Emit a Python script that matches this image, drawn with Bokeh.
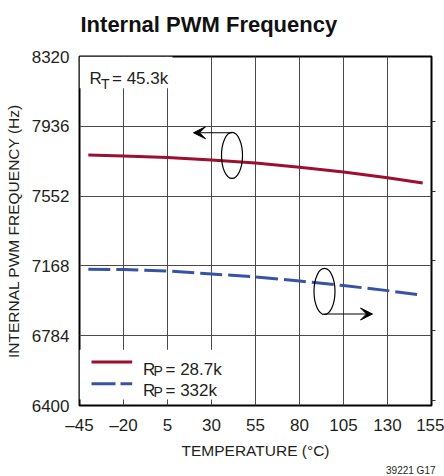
from bokeh.plotting import figure
from bokeh.models import Range1d, FixedTicker, LinearAxis, Label, BoxAnnotation, Arrow, VeeHead, Title
from bokeh.embed import file_html
from bokeh.resources import INLINE

# ---- data ----
temps = [-40, -20, 5, 30, 55, 80, 105, 130, 150]
freq_rp_28k7 = [7778, 7772, 7764, 7751, 7734, 7711, 7684, 7653, 7624]
freq_rp_332k = [7150, 7148, 7140, 7124, 7107, 7085, 7060, 7032, 7006]
x_ticks = [-45, -20, 5, 30, 55, 80, 105, 130, 155]
x_tick_labels = ["\u201345", "\u201320", "5", "30", "55", "80", "105", "130", "155"]
y_ticks = [6400, 6784, 7168, 7552, 7936, 8320]
right_ticks = [6427, 6811, 7195, 7579, 7963]

FONT = "Liberation Sans"
TXT = "#231f20"
RED = "#9c0f2f"
BLUE = "#3953a4"

X0, X1 = -45, 155
Y0, Y1 = 6400, 8320
# frame position on the canvas (used only to place annotations)
FL, FT, FW, FH = 79, 56, 352, 351


def px_x(px):
    return X0 + (px - FL) * (X1 - X0) / FW


def px_y(py):
    return Y1 - (py - FT) * (Y1 - Y0) / FH


p = figure(width=444, height=476, x_range=Range1d(X0, X1), y_range=Range1d(Y0, Y1),
           output_backend="svg", toolbar_location=None,
           min_border_left=79, min_border_right=13, min_border_top=56, min_border_bottom=69)

p.title.text = "Internal PWM Frequency"
p.title.text_font = FONT
p.title.text_font_size = "22px"
p.title.text_font_style = "bold"
p.title.text_color = "#111111"
p.title.align = "left"
p.title.vertical_align = "bottom"
p.title.standoff = 0
p.title.offset = 1

# empty spacer between the title and the frame
p.add_layout(Title(text=" ", text_font_size="1px", standoff=17), "above")

p.add_layout(Title(text="39221 G17", align="right", text_font=FONT, text_font_size="10px",
                   text_font_style="normal", text_color=TXT, standoff=2, offset=-4), "below")

p.outline_line_color = "black"
p.outline_line_width = 2
p.background_fill_color = "white"
p.border_fill_color = "white"

for ax in (p.xaxis[0], p.yaxis[0]):
    ax.axis_line_color = None
    ax.major_tick_in = 0
    ax.major_tick_out = 0
    ax.minor_tick_line_color = None
    ax.major_label_text_font = FONT
    ax.major_label_text_font_size = "17px"
    ax.major_label_text_color = TXT
    ax.axis_label_text_font = FONT
    ax.axis_label_text_font_size = "15.5px"
    ax.axis_label_text_font_style = "normal"
    ax.axis_label_text_color = TXT

p.xaxis.ticker = FixedTicker(ticks=x_ticks)
p.xaxis.major_label_overrides = {t: l for t, l in zip(x_ticks, x_tick_labels)}
p.xaxis.major_label_standoff = 10
p.xaxis.axis_label = "TEMPERATURE (\u00b0C)"
p.xaxis.axis_label_standoff = 4

p.yaxis.ticker = FixedTicker(ticks=y_ticks)
p.yaxis.major_label_standoff = 10
p.yaxis.axis_label = "INTERNAL PWM FREQUENCY (Hz)"
p.yaxis.axis_label_standoff = 7

p.xgrid.ticker = FixedTicker(ticks=x_ticks)
p.ygrid.ticker = FixedTicker(ticks=y_ticks)
p.grid.grid_line_color = "#4a4a4a"
p.grid.grid_line_width = 1

ra = LinearAxis(ticker=FixedTicker(ticks=right_ticks), axis_line_color=None,
                major_tick_in=0, major_tick_out=13, major_tick_line_dash="0 9 4 20",
                major_tick_line_color="#333333",
                minor_tick_line_color=None, major_label_standoff=0,
                major_label_overrides={t: "" for t in right_ticks})
p.add_layout(ra, "right")

# white boxes behind the in-plot texts
p.add_layout(BoxAnnotation(left=X0, right=px_x(172), top=Y1, bottom=px_y(88),
                           fill_color="white", fill_alpha=1, line_color=None, level="underlay"))
p.add_layout(BoxAnnotation(left=X0, right=px_x(222), top=px_y(351), bottom=px_y(401),
                           fill_color="white", fill_alpha=1, line_color=None, level="underlay"))

# data lines
p.line(temps, freq_rp_28k7, line_color=RED, line_width=3)
p.line(temps, freq_rp_332k, line_color=BLUE, line_width=3, line_dash="22 6")

# ellipses and arrows
p.ellipse(x=[px_x(231.5), px_x(324)], y=[px_y(155.5), px_y(292.3)], width=21, height=46,
          width_units="screen", height_units="screen", fill_color=None,
          line_color="black", line_width=1.2)
p.add_layout(Arrow(end=VeeHead(size=12, fill_color="black", line_color="black"),
                   x_start=px_x(231.5), y_start=px_y(132.7), x_end=px_x(193), y_end=px_y(132.7),
                   line_color="black", line_width=1.2))
p.add_layout(Arrow(end=VeeHead(size=12, fill_color="black", line_color="black"),
                   x_start=px_x(324), y_start=px_y(315), x_end=px_x(372), y_end=px_y(315),
                   line_color="black", line_width=1.2))


def lab(x, y, text, size="17px", align="left", baseline="alphabetic"):
    p.add_layout(Label(x=x, y=y, text=text, text_font=FONT, text_font_size=size,
                       text_color=TXT, text_align=align, text_baseline=baseline))


# R_T label
lab(px_x(89), px_y(78.3), "R")
lab(px_x(100.5), px_y(83.3), "T", size="14px")
lab(px_x(111.5), px_y(78.3), "= 45.3k")

# legend
p.line([px_x(91), px_x(131.7)], [px_y(363.3)] * 2, line_color=RED, line_width=3)
p.line([px_x(91), px_x(131.7)], [px_y(385)] * 2, line_color=BLUE, line_width=3, line_dash="24 5")
for yb, txt in ((371, "= 28.7k"), (392.3, "= 332k")):
    lab(px_x(142.5), px_y(yb), "R")
    lab(px_x(153), px_y(yb + 1.5), "P", size="14px")
    lab(px_x(165), px_y(yb), txt)

open("out.html", "w").write(file_html(p, INLINE))
